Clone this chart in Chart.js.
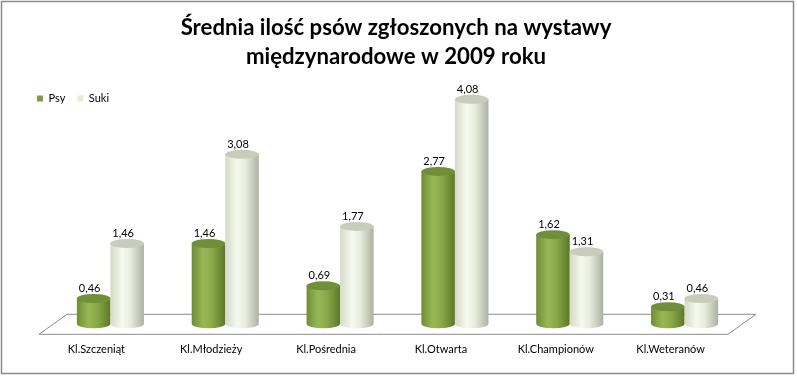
<!DOCTYPE html>
<html>
<head>
<meta charset="utf-8">
<script src="https://cdn.jsdelivr.net/npm/chart.js@4/dist/chart.umd.min.js"></script>
<style>
  body { margin: 0; background: #fff; }
  canvas { display: block; }
</style>
</head>
<body>
<canvas id="wystawyChart" width="797" height="376"></canvas>
<script>
// dane z wykresu
var klasy = ['Kl.Szczeniąt', 'Kl.Młodzieży', 'Kl.Pośrednia', 'Kl.Otwarta', 'Kl.Championów', 'Kl.Weteranów'];
var psy = [0.46, 1.46, 0.69, 2.77, 1.62, 0.31];
var suki = [1.46, 3.08, 1.77, 4.08, 1.31, 0.46];
var tytul = ['Średnia ilość psów zgłoszonych na wystawy', 'międzynarodowe w 2009 roku'];

var FONT = 'Lato, "Open Sans", sans-serif';
var DEPTH_X = 28, DEPTH_Y = -20;   // glebokosc podlogi 3D
var RY = 4.5;                       // promien pionowy elipsy walca

// gradienty walcow: [lewy brzeg, jasny srodek, prawy brzeg, wieczko]
var kolory = [
  { stops: ['#6f8e35', '#98b858', '#8aaa4a', '#5b7828'], top: '#718f38' },
  { stops: ['#d5d9c6', '#f6f9ee', '#e8ecdc', '#adb1a0'], top: '#c8ccba' }
];

function walec(ctx, cx, top, base, rx, kol) {
  var g = ctx.createLinearGradient(cx - rx, 0, cx + rx, 0);
  g.addColorStop(0, kol.stops[0]);
  g.addColorStop(0.35, kol.stops[1]);
  g.addColorStop(0.6, kol.stops[2]);
  g.addColorStop(1, kol.stops[3]);
  ctx.beginPath();
  ctx.moveTo(cx - rx, top);
  ctx.lineTo(cx - rx, base);
  ctx.ellipse(cx, base, rx, RY, 0, Math.PI, 0, true);
  ctx.lineTo(cx + rx, top);
  ctx.closePath();
  ctx.fillStyle = g;
  ctx.fill();
  ctx.beginPath();
  ctx.ellipse(cx, top, rx, RY, 0, 0, Math.PI * 2);
  ctx.fillStyle = kol.top;
  ctx.fill();
}

var tloIRamka = {
  id: 'tloIRamka',
  beforeDraw: function(chart) {
    var ctx = chart.ctx;
    ctx.save();
    ctx.fillStyle = '#ffffff';
    ctx.fillRect(0, 0, chart.width, chart.height);
    ctx.strokeStyle = '#8a8a8a';
    ctx.lineWidth = 1.5;
    ctx.strokeRect(1.5, 1.5, 792, 372);
    ctx.restore();
  }
};

var podloga = {
  id: 'podloga',
  afterLayout: function(chart) {
    // legenda w lewym gornym rogu obszaru wykresu
    chart.legend.left = chart.chartArea.left - 14;
    chart.legend.top = 81;
  },
  beforeDatasetsDraw: function(chart) {
    var ctx = chart.ctx, a = chart.chartArea;
    var y0 = chart.scales.y.getPixelForValue(0);
    ctx.save();
    ctx.beginPath();
    ctx.moveTo(a.left, y0 + 0.5);
    ctx.lineTo(a.right, y0 + 0.5);
    ctx.lineTo(a.right + DEPTH_X, y0 + DEPTH_Y + 0.5);
    ctx.lineTo(a.left + DEPTH_X, y0 + DEPTH_Y + 0.5);
    ctx.closePath();
    ctx.fillStyle = '#ffffff';
    ctx.fill();
    ctx.strokeStyle = '#8c8c8c';
    ctx.lineWidth = 1;
    ctx.stroke();
    ctx.restore();
  },
  beforeDatasetDraw: function() {
    return false; // zamiast prostokatow rysujemy walce
  },
  afterDatasetsDraw: function(chart) {
    var ctx = chart.ctx;
    var dx = DEPTH_X / 2, dy = DEPTH_Y / 2;
    ctx.save();
    for (var i = 0; i < klasy.length; i++) {
      for (var d = 0; d < chart.data.datasets.length; d++) {
        var bar = chart.getDatasetMeta(d).data[i];
        var rx = bar.width / 2;
        walec(ctx, bar.x + dx, bar.y + dy, bar.base + dy, rx, kolory[d]);
      }
    }
    ctx.fillStyle = '#000000';
    ctx.font = '11px ' + FONT;
    ctx.textAlign = 'center';
    ctx.textBaseline = 'middle';
    for (var d2 = 0; d2 < chart.data.datasets.length; d2++) {
      var meta = chart.getDatasetMeta(d2);
      meta.data.forEach(function(bar, j) {
        var v = chart.data.datasets[d2].data[j];
        ctx.fillText(v.toFixed(2).replace('.', ','), bar.x + dx - 4, bar.y + dy - 10);
      });
    }
    ctx.restore();
  }
};

function pustaOs(szer) {
  return function(scale) { scale.width = szer; };
}

var ctx = document.getElementById('wystawyChart').getContext('2d');
var wykres = new Chart(ctx, {
  type: 'bar',
  data: {
    labels: klasy,
    datasets: [
      { label: 'Psy', data: psy, backgroundColor: '#7f9f41', borderWidth: 0 },
      { label: 'Suki', data: suki, backgroundColor: '#e6ecd6', borderWidth: 0 }
    ]
  },
  options: {
    responsive: false,
    animation: false,
    layout: { padding: { left: 0, right: 5, top: 0, bottom: 11 } },
    datasets: { bar: { categoryPercentage: 0.584, barPercentage: 1 } },
    scales: {
      x: {
        grid: { display: false, drawTicks: false },
        border: { display: false },
        ticks: { color: '#000', font: { family: FONT, size: 11 }, padding: 9, maxRotation: 0 }
      },
      y: {
        min: 0, max: 4.18,
        grid: { display: false, drawTicks: false },
        border: { display: false },
        ticks: { display: false },
        afterFit: pustaOs(39)
      },
      y2: {
        position: 'right',
        grid: { display: false, drawTicks: false },
        border: { display: false },
        ticks: { display: false },
        afterFit: pustaOs(64)
      }
    },
    plugins: {
      title: {
        display: true,
        text: tytul,
        color: '#000',
        font: { family: FONT, size: 22.2, weight: 'bold', lineHeight: 1.28 },
        padding: { top: 14, bottom: 0 }
      },
      legend: {
        position: 'top',
        align: 'start',
        labels: {
          color: '#000',
          boxWidth: 6,
          boxHeight: 6,
          padding: 12,
          font: { family: FONT, size: 11 }
        }
      },
      tooltip: { enabled: false }
    }
  },
  plugins: [tloIRamka, podloga]
});
</script>
</body>
</html>
